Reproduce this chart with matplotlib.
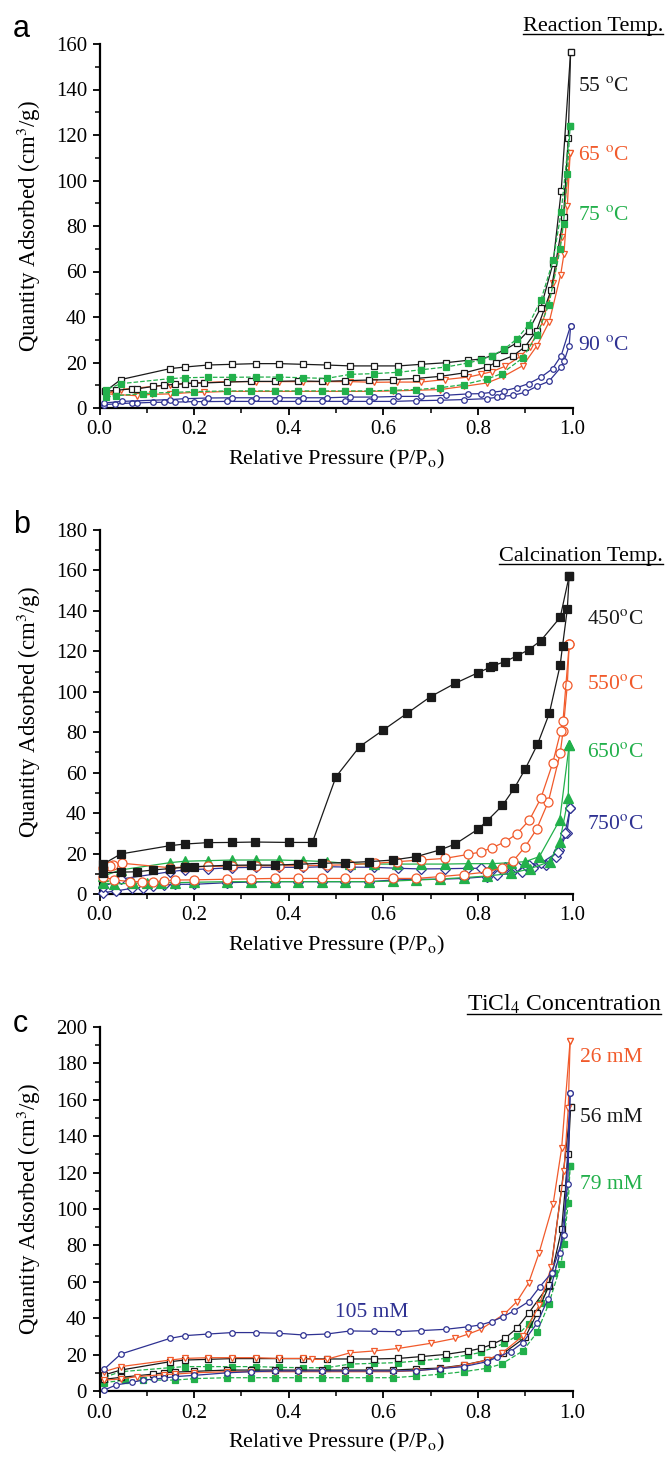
import matplotlib
matplotlib.use("Agg")
import matplotlib.pyplot as plt
from matplotlib.lines import Line2D
from matplotlib.ticker import MultipleLocator

# ---- panel a: reaction temperature ----
A55_ADS_P = [0.012, 0.035, 0.068, 0.079, 0.114, 0.136, 0.16, 0.18, 0.20, 0.22, 0.27, 0.32, 0.37, 0.42, 0.47,
             0.52, 0.57, 0.62, 0.67, 0.72, 0.77, 0.819, 0.838, 0.875, 0.90, 0.924, 0.955, 0.981, 0.991, 0.996]
A55_ADS_Q = [7.3, 7.8, 8.4, 8.4, 9.5, 10.0, 10.4, 10.7, 11.0, 11.0, 11.4, 11.7, 11.7, 11.9, 11.7,
             12.0, 12.3, 12.5, 13.0, 13.9, 15.4, 18.0, 20.0, 23.0, 27.0, 34.0, 52.0, 84.0, 118.7, 156.5]
A55_DES_P = [0.996, 0.976, 0.959, 0.933, 0.907, 0.882, 0.856, 0.83, 0.806, 0.78, 0.732, 0.68, 0.632,
             0.58, 0.53, 0.48, 0.43, 0.38, 0.33, 0.28, 0.23, 0.18, 0.149, 0.045, 0.012]
A55_DES_Q = [156.5, 95.2, 63.7, 44.0, 34.0, 28.6, 25.5, 23.0, 21.5, 21.0, 19.9, 19.2, 18.5,
             18.5, 18.5, 18.9, 19.2, 19.5, 19.5, 19.2, 18.9, 18.0, 17.3, 12.5, 7.3]

A65_ADS_P = [0.014, 0.03, 0.079, 0.11, 0.149, 0.2, 0.22, 0.27, 0.32, 0.37, 0.42, 0.47, 0.52, 0.57,
             0.62, 0.67, 0.72, 0.77, 0.819, 0.854, 0.895, 0.925, 0.951, 0.975, 0.982, 0.989, 0.995]
A65_ADS_Q = [6.3, 6.0, 5.4, 6.0, 6.2, 6.9, 6.9, 7.3, 7.3, 7.3, 7.3, 7.3, 7.3, 7.3,
             7.5, 7.8, 8.1, 9.5, 11.0, 13.9, 18.6, 27.4, 38.0, 58.6, 67.8, 88.6, 112.0]
A65_DES_P = [0.995, 0.977, 0.959, 0.937, 0.91, 0.89, 0.857, 0.83, 0.806, 0.78, 0.73, 0.68, 0.63,
             0.58, 0.53, 0.48, 0.43, 0.38, 0.33, 0.27, 0.22, 0.18, 0.149, 0.045, 0.014]
A65_DES_Q = [112.0, 75.2, 55.0, 37.7, 27.0, 22.7, 18.3, 16.0, 14.8, 13.6, 12.5, 11.4, 11.4,
             11.3, 11.6, 11.6, 11.6, 11.6, 11.6, 11.6, 11.2, 10.7, 10.2, 8.1, 6.3]

A75_ADS_P = [0.014, 0.034, 0.091, 0.114, 0.16, 0.2, 0.27, 0.32, 0.37, 0.42, 0.47, 0.52, 0.57, 0.62,
             0.67, 0.72, 0.77, 0.819, 0.85, 0.895, 0.925, 0.95, 0.974, 0.981, 0.989, 0.995]
A75_ADS_Q = [4.8, 5.4, 6.3, 6.6, 6.9, 7.2, 7.5, 7.5, 7.5, 7.5, 7.5, 7.5, 7.5, 7.8,
             8.1, 8.9, 10.3, 12.7, 15.1, 22.0, 32.2, 45.4, 69.9, 81.0, 103.0, 124.0]
A75_DES_P = [0.995, 0.976, 0.959, 0.933, 0.907, 0.882, 0.856, 0.83, 0.806, 0.78, 0.732, 0.68, 0.632,
             0.58, 0.53, 0.48, 0.43, 0.38, 0.33, 0.28, 0.23, 0.18, 0.149, 0.045, 0.014]
A75_DES_Q = [124.0, 86.0, 64.9, 47.3, 36.5, 30.3, 25.9, 23.0, 21.2, 19.8, 18.0, 16.8, 15.7,
             15.1, 14.8, 13.0, 13.3, 13.6, 13.6, 13.5, 13.5, 13.3, 12.9, 10.7, 8.1]

A90_ADS_P = [0.01, 0.033, 0.068, 0.079, 0.114, 0.136, 0.16, 0.2, 0.22, 0.27, 0.32, 0.37, 0.42, 0.47, 0.52,
             0.57, 0.62, 0.67, 0.72, 0.77, 0.819, 0.84, 0.85, 0.875, 0.9, 0.924, 0.95, 0.976, 0.982, 0.993, 0.996]
A90_ADS_Q = [1.5, 1.8, 2.2, 2.2, 2.5, 2.5, 2.6, 2.8, 2.8, 2.9, 2.9, 2.9, 2.9, 2.9, 2.9,
             2.9, 2.9, 3.2, 3.4, 3.7, 4.1, 4.7, 5.1, 5.6, 6.9, 9.5, 11.7, 18.0, 20.5, 27.4, 36.2]
A90_DES_P = [0.996, 0.976, 0.958, 0.933, 0.907, 0.882, 0.856, 0.83, 0.806, 0.78, 0.732, 0.68, 0.632,
             0.58, 0.53, 0.48, 0.43, 0.38, 0.33, 0.28, 0.23, 0.18, 0.149, 0.047, 0.01]
A90_DES_Q = [36.2, 23.0, 17.3, 13.5, 10.7, 8.9, 7.6, 6.9, 6.3, 6.2, 5.6, 5.1, 5.1,
             4.8, 4.8, 4.5, 4.5, 4.5, 4.5, 4.5, 4.4, 4.1, 3.7, 2.9, 2.2]

# ---- panel b: calcination temperature ----
B450_ADS_P = [0.008, 0.045, 0.079, 0.114, 0.15, 0.18, 0.2, 0.27, 0.32, 0.37, 0.42, 0.47, 0.52, 0.57, 0.62,
              0.67, 0.72, 0.752, 0.80, 0.82, 0.852, 0.877, 0.90, 0.926, 0.951, 0.974, 0.979, 0.989, 0.993]
B450_ADS_Q = [10.5, 10.8, 11.0, 11.9, 12.6, 13.2, 13.5, 14.2, 14.3, 14.3, 14.7, 15.2, 15.5, 16.0, 16.8,
              18.5, 21.8, 24.7, 32.0, 36.3, 43.8, 52.3, 61.8, 74.0, 89.3, 113.3, 122.8, 140.8, 157.3]
B450_DES_P = [0.993, 0.974, 0.933, 0.907, 0.882, 0.857, 0.831, 0.826, 0.801, 0.752, 0.70, 0.65, 0.60,
              0.55, 0.50, 0.45, 0.40, 0.329, 0.28, 0.229, 0.18, 0.149, 0.045, 0.008]
B450_DES_Q = [157.3, 136.8, 125.3, 120.7, 117.7, 114.9, 112.8, 112.1, 109.5, 104.2, 97.6, 89.3, 81.1,
              72.9, 58.0, 25.5, 25.5, 25.7, 25.5, 25.4, 24.7, 23.9, 19.8, 14.8]

B550_ADS_P = [0.008, 0.03, 0.065, 0.089, 0.114, 0.136, 0.16, 0.2, 0.27, 0.32, 0.37, 0.42, 0.47, 0.52, 0.57,
              0.62, 0.67, 0.72, 0.77, 0.82, 0.85, 0.875, 0.9, 0.924, 0.949, 0.974, 0.98, 0.989, 0.993]
B550_ADS_Q = [8.6, 7.0, 6.1, 6.1, 6.1, 6.4, 6.9, 7.0, 7.3, 7.5, 7.7, 7.7, 7.7, 7.7, 7.7,
              7.7, 7.7, 8.6, 9.6, 10.9, 13.0, 16.5, 23.4, 32.0, 45.7, 69.6, 80.5, 103.4, 123.6]
B550_DES_P = [0.993, 0.98, 0.975, 0.958, 0.933, 0.909, 0.882, 0.857, 0.83, 0.806, 0.78, 0.73, 0.68, 0.63,
              0.583, 0.53, 0.48, 0.43, 0.38, 0.33, 0.28, 0.23, 0.18, 0.149, 0.048, 0.029, 0.022, 0.008]
B550_DES_Q = [123.6, 85.7, 80.4, 64.6, 47.3, 36.6, 29.7, 25.7, 22.9, 20.8, 19.6, 17.6, 16.8, 16.0,
              15.2, 14.5, 14.2, 14.0, 14.0, 14.0, 13.8, 13.6, 13.3, 13.0, 15.2, 14.3, 14.0, 12.7]

B650_ADS_P = [0.008, 0.03, 0.07, 0.1, 0.13, 0.16, 0.2, 0.27, 0.32, 0.37, 0.42, 0.47, 0.52, 0.57, 0.62,
              0.67, 0.72, 0.77, 0.82, 0.87, 0.91, 0.952, 0.973, 0.991, 0.993]
B650_ADS_Q = [5.3, 5.0, 5.3, 5.5, 5.6, 5.6, 5.8, 6.1, 6.1, 6.1, 6.1, 6.1, 6.1, 6.1, 6.4,
              6.9, 7.4, 8.1, 8.9, 10.2, 12.5, 16.0, 25.9, 47.3, 73.7]
B650_DES_P = [0.993, 0.973, 0.93, 0.90, 0.87, 0.83, 0.78, 0.73, 0.68, 0.63, 0.58, 0.53, 0.48,
              0.43, 0.38, 0.33, 0.28, 0.23, 0.18, 0.149, 0.045, 0.008]
B650_DES_Q = [73.7, 36.6, 18.5, 16.0, 15.5, 15.0, 15.0, 14.8, 14.8, 14.8, 14.8, 15.0, 16.0,
              16.5, 16.8, 16.8, 16.8, 16.5, 16.2, 15.5, 11.9, 8.9]

B750_ADS_P = [0.008, 0.035, 0.068, 0.093, 0.114, 0.136, 0.16, 0.2, 0.27, 0.32, 0.37, 0.42, 0.47, 0.52, 0.57,
              0.62, 0.67, 0.72, 0.77, 0.819, 0.84, 0.87, 0.893, 0.917, 0.945, 0.965, 0.972, 0.988, 0.995]
B750_ADS_Q = [0.7, 1.5, 2.8, 3.1, 4.1, 4.3, 4.8, 4.8, 5.6, 5.9, 6.1, 6.1, 6.1, 6.1, 6.1,
              6.9, 7.3, 7.3, 7.7, 8.6, 9.4, 10.2, 11.0, 12.7, 14.3, 18.1, 21.8, 30.0, 42.4]
B750_DES_P = [0.995, 0.984, 0.97, 0.933, 0.907, 0.882, 0.857, 0.83, 0.806, 0.78, 0.73, 0.68, 0.632,
              0.58, 0.53, 0.48, 0.43, 0.38, 0.33, 0.28, 0.229, 0.18, 0.149, 0.045, 0.008]
B750_DES_Q = [42.4, 30.0, 20.9, 15.2, 14.5, 14.0, 13.2, 12.7, 12.7, 12.7, 12.5, 12.4, 12.7,
              13.2, 13.3, 13.5, 13.2, 13.2, 13.2, 13.0, 12.4, 11.9, 11.0, 7.4, 3.6]

# ---- panel c: TiCl4 concentration ----
C26_ADS_P = [0.0095, 0.045, 0.079, 0.136, 0.16, 0.2, 0.27, 0.32, 0.37, 0.42, 0.47, 0.52, 0.57, 0.62,
             0.67, 0.72, 0.77, 0.819, 0.85, 0.895, 0.93, 0.955, 0.982, 0.991, 0.995]
C26_ADS_Q = [6.0, 6.6, 7.9, 9.0, 9.3, 10.0, 10.6, 10.6, 10.6, 10.6, 10.6, 10.6, 10.6, 10.6,
             11.2, 12.3, 14.1, 17.0, 20.7, 30.2, 47.3, 68.0, 120.9, 155.3, 192.5]
C26_DES_P = [0.995, 0.977, 0.959, 0.929, 0.907, 0.882, 0.856, 0.806, 0.78, 0.752, 0.70, 0.632, 0.58,
             0.53, 0.48, 0.45, 0.43, 0.38, 0.33, 0.28, 0.23, 0.18, 0.149, 0.045, 0.0095]
C26_DES_Q = [192.5, 133.3, 102.7, 75.6, 59.2, 49.0, 42.3, 33.9, 31.3, 28.9, 26.2, 23.4, 22.0,
             21.0, 17.4, 17.4, 17.9, 17.9, 18.3, 18.3, 18.3, 17.9, 17.0, 13.4, 10.6]

C56_ADS_P = [0.0095, 0.045, 0.114, 0.136, 0.16, 0.2, 0.27, 0.32, 0.37, 0.42, 0.47, 0.52, 0.57, 0.62,
             0.67, 0.72, 0.77, 0.819, 0.854, 0.9, 0.925, 0.95, 0.977, 0.991, 0.996]
C56_ADS_Q = [6.4, 7.5, 9.3, 10.0, 10.4, 10.8, 11.5, 11.5, 11.5, 11.5, 11.5, 11.5, 11.5, 11.5,
             12.1, 12.6, 14.3, 17.0, 20.7, 29.5, 42.7, 57.7, 88.8, 130.2, 155.9]
C56_DES_P = [0.996, 0.977, 0.95, 0.907, 0.882, 0.857, 0.83, 0.806, 0.78, 0.732, 0.68, 0.632, 0.58,
             0.53, 0.48, 0.43, 0.38, 0.33, 0.28, 0.23, 0.18, 0.149, 0.045, 0.0095]
C56_DES_Q = [155.9, 111.4, 58.2, 42.7, 34.4, 28.9, 25.6, 23.4, 22.0, 20.1, 18.9, 17.9, 17.6,
             17.6, 17.6, 17.8, 17.8, 17.8, 17.8, 17.4, 17.0, 16.1, 11.5, 8.8]

C79_ADS_P = [0.0095, 0.054, 0.091, 0.16, 0.2, 0.27, 0.32, 0.37, 0.42, 0.47, 0.52, 0.57, 0.62,
             0.67, 0.72, 0.77, 0.819, 0.85, 0.895, 0.925, 0.95, 0.976, 0.991, 0.995]
C79_ADS_Q = [4.6, 6.0, 6.0, 6.0, 6.8, 7.3, 7.3, 7.3, 7.3, 7.3, 7.3, 7.3, 7.3,
             8.2, 9.2, 10.6, 12.5, 14.8, 22.0, 32.2, 48.0, 69.8, 103.1, 123.8]
C79_DES_P = [0.995, 0.981, 0.96, 0.933, 0.907, 0.882, 0.856, 0.806, 0.78, 0.732, 0.68, 0.632, 0.58,
             0.53, 0.48, 0.43, 0.38, 0.33, 0.28, 0.23, 0.18, 0.149, 0.045, 0.0095]
C79_DES_Q = [123.8, 80.8, 64.7, 48.2, 36.8, 30.2, 26.2, 21.2, 19.8, 17.9, 16.7, 15.6, 15.2,
             14.8, 12.8, 12.8, 13.0, 13.4, 13.4, 13.4, 13.4, 12.8, 10.6, 7.5]

C105_ADS_P = [0.0095, 0.035, 0.068, 0.091, 0.115, 0.137, 0.16, 0.2, 0.27, 0.32, 0.37, 0.42, 0.47, 0.52,
              0.57, 0.62, 0.67, 0.72, 0.77, 0.819, 0.84, 0.869, 0.895, 0.925, 0.948, 0.973, 0.99, 0.995]
C105_ADS_Q = [0.5, 3.3, 4.8, 5.9, 6.6, 7.1, 7.9, 8.6, 10.0, 10.6, 11.0, 11.0, 11.0, 11.0,
              11.0, 11.0, 11.2, 12.3, 13.4, 16.1, 18.5, 21.6, 26.6, 37.2, 50.4, 75.6, 114.0, 163.5]
C105_DES_P = [0.995, 0.982, 0.956, 0.931, 0.907, 0.877, 0.853, 0.829, 0.805, 0.78, 0.732, 0.68, 0.632,
              0.58, 0.53, 0.48, 0.43, 0.38, 0.33, 0.28, 0.23, 0.18, 0.149, 0.045, 0.0095]
C105_DES_Q = [163.5, 85.7, 65.0, 57.3, 49.1, 44.1, 40.8, 38.1, 36.3, 35.3, 33.9, 33.2, 32.6,
              32.8, 33.0, 31.3, 30.8, 31.7, 32.1, 32.1, 31.3, 30.4, 28.9, 20.3, 11.9]

BLACK = "#1a1a1a"
ORANGE = "#f15a2b"
GREEN = "#22b04b"
BLUE = "#2e3192"

plt.rcParams["font.family"] = ["Liberation Serif", "DejaVu Serif"]
plt.rcParams["mathtext.fontset"] = "stix"

fig = plt.figure(figsize=(6.65, 14.57), dpi=100)

LEFT, WIDTH, HEIGHT = 99.5 / 665, 473 / 665, 364 / 1457
ax_a = fig.add_axes([LEFT, 1 - 408 / 1457, WIDTH, HEIGHT])
ax_b = fig.add_axes([LEFT, 1 - 894 / 1457, WIDTH, HEIGHT])
ax_c = fig.add_axes([LEFT, 1 - 1391 / 1457, WIDTH, HEIGHT])


def style_axes(ax, ymax, ystep):
    ax.set_xlim(0, 1.0)
    ax.set_ylim(0, ymax)
    ax.spines["top"].set_visible(False)
    ax.spines["right"].set_visible(False)
    for s in ("left", "bottom"):
        ax.spines[s].set_linewidth(1.6)
    ax.xaxis.set_major_locator(MultipleLocator(0.2))
    ax.xaxis.set_minor_locator(MultipleLocator(0.1))
    ax.yaxis.set_major_locator(MultipleLocator(ystep))
    ax.yaxis.set_minor_locator(MultipleLocator(ystep / 2))
    ax.xaxis.set_major_formatter(plt.FuncFormatter(lambda v, p: f"{v:.1f}"))
    ax.tick_params(which="major", direction="out", length=5, width=1.3, labelsize=15, pad=4)
    ax.tick_params(which="minor", direction="out", length=3.5, width=1.1)
    ax.set_xlabel("Relative Pressure (P/P$_{\\mathrm{o}}$)", fontsize=16, labelpad=6)
    ax.set_ylabel("Quantity Adsorbed (cm$^{3}$/g)", fontsize=16.5, labelpad=9)
    ax.patch.set_alpha(0)


def draw_pair(ax, ads_p, ads_q, des_p, des_q, color, marker, ms, filled, ls="-"):
    face = color if filled else "white"
    for p, q in ((ads_p, ads_q), (des_p, des_q)):
        ax.plot(p, q, color=color, ls=ls, lw=0.9, marker=marker, ms=ms,
                mfc=face, mec=color, mew=0.9, clip_on=False, zorder=3)


# panel a
draw_pair(ax_a, A90_ADS_P, A90_ADS_Q, A90_DES_P, A90_DES_Q, BLUE, "o", 4, False)
draw_pair(ax_a, A65_ADS_P, A65_ADS_Q, A65_DES_P, A65_DES_Q, ORANGE, "v", 4.5, False)
draw_pair(ax_a, A55_ADS_P, A55_ADS_Q, A55_DES_P, A55_DES_Q, BLACK, "s", 3.8, False)
draw_pair(ax_a, A75_ADS_P, A75_ADS_Q, A75_DES_P, A75_DES_Q, GREEN, "s", 4, True, ls="--")
style_axes(ax_a, 160, 20)

# panel b
draw_pair(ax_b, B750_ADS_P, B750_ADS_Q, B750_DES_P, B750_DES_Q, BLUE, "D", 5.5, False)
draw_pair(ax_b, B650_ADS_P, B650_ADS_Q, B650_DES_P, B650_DES_Q, GREEN, "^", 6.5, True)
draw_pair(ax_b, B550_ADS_P, B550_ADS_Q, B550_DES_P, B550_DES_Q, ORANGE, "o", 6.5, False)
draw_pair(ax_b, B450_ADS_P, B450_ADS_Q, B450_DES_P, B450_DES_Q, BLACK, "s", 5.5, True)
style_axes(ax_b, 180, 20)

# panel c
draw_pair(ax_c, C79_ADS_P, C79_ADS_Q, C79_DES_P, C79_DES_Q, GREEN, "s", 4, True, ls="--")
draw_pair(ax_c, C56_ADS_P, C56_ADS_Q, C56_DES_P, C56_DES_Q, BLACK, "s", 3.8, False)
draw_pair(ax_c, C26_ADS_P, C26_ADS_Q, C26_DES_P, C26_DES_Q, ORANGE, "v", 4.5, False)
draw_pair(ax_c, C105_ADS_P, C105_ADS_Q, C105_DES_P, C105_DES_Q, BLUE, "o", 4, False)
style_axes(ax_c, 200, 20)

# series labels
lab = dict(fontsize=15.5, va="center", ha="left", clip_on=False)
ax_a.text(1.012, 141.5, "55 $^{\\mathrm{o}}$C", color=BLACK, **lab)
ax_a.text(1.012, 111.0, "65 $^{\\mathrm{o}}$C", color=ORANGE, **lab)
ax_a.text(1.012, 84.5, "75 $^{\\mathrm{o}}$C", color=GREEN, **lab)
ax_a.text(1.012, 27.6, "90 $^{\\mathrm{o}}$C", color=BLUE, **lab)

ax_b.text(1.031, 135.5, "450$^{\\mathrm{o}}$C", color=BLACK, **lab)
ax_b.text(1.031, 103.8, "550$^{\\mathrm{o}}$C", color=ORANGE, **lab)
ax_b.text(1.031, 70.2, "650$^{\\mathrm{o}}$C", color=GREEN, **lab)
ax_b.text(1.031, 34.6, "750$^{\\mathrm{o}}$C", color=BLUE, **lab)

ax_c.text(1.016, 183.5, "26 mM", color=ORANGE, **lab)
ax_c.text(1.016, 150.5, "56 mM", color=BLACK, **lab)
ax_c.text(1.016, 113.2, "79 mM", color=GREEN, **lab)
ax_c.text(0.576, 42.9, "105 mM", color=BLUE, fontsize=15.5, va="center", ha="center")

# panel letters
for letter, yb in (("a", 37), ("b", 533), ("c", 1032)):
    fig.text(13 / 665, 1 - yb / 1457, letter, fontsize=22, family="Liberation Sans",
             ha="left", va="baseline")

# underlined panel titles
titles = []
for txt, yb, xr, fs in (("Reaction Temp.", 31, 663, 16), ("Calcination Temp.", 561, 663, 16),
                        ("TiCl$_{4}$ Concentration", 1011, 661, 17)):
    titles.append(fig.text(xr / 665, 1 - yb / 1457, txt, fontsize=fs, ha="right", va="baseline"))

fig.canvas.draw()
renderer = fig.canvas.get_renderer()
inv = fig.transFigure.inverted()
for t in titles:
    bb = t.get_window_extent(renderer)
    x0, _ = inv.transform((bb.x0, 0))
    x1, _ = inv.transform((bb.x1, 0))
    _, yb = t.get_position()
    yline = yb - 3 / 1457
    fig.add_artist(Line2D([x0, x1], [yline, yline], transform=fig.transFigure,
                          color="black", lw=1.0))

fig.savefig("out.png", dpi=100)
plt.close(fig)
